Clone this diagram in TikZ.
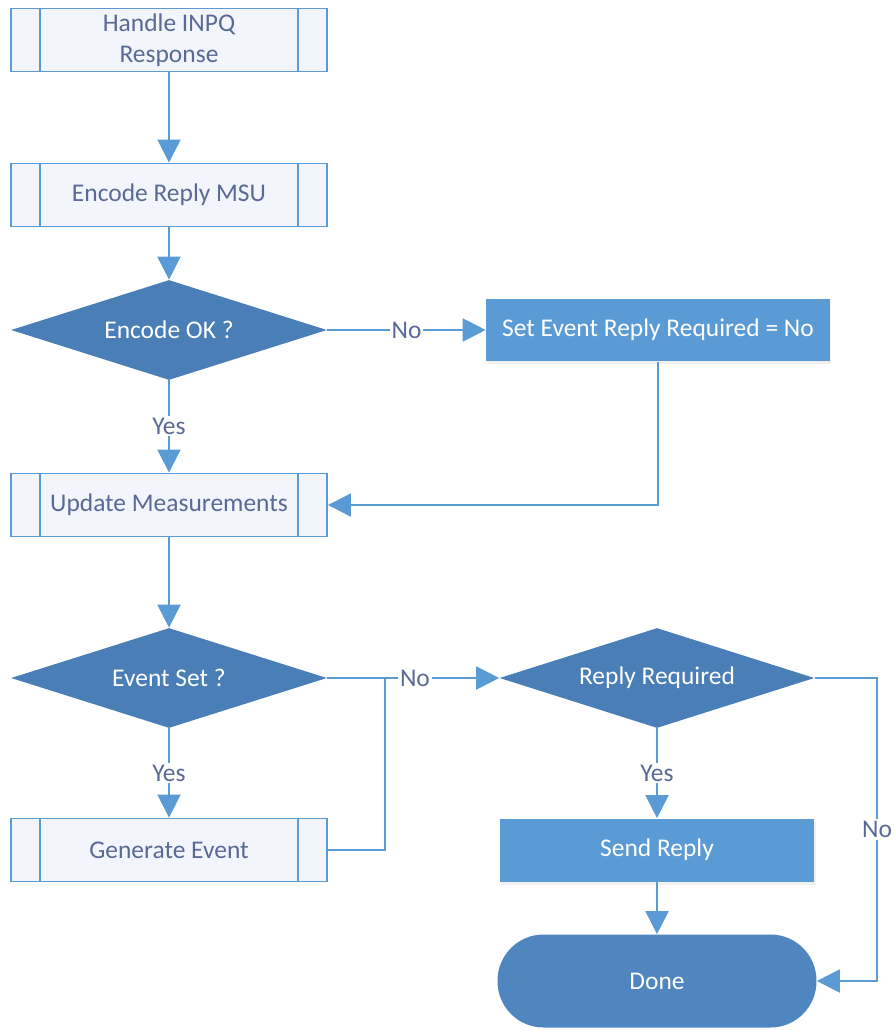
\documentclass[tikz,border=0pt]{standalone}
\usepackage{fontspec}
\setmainfont{Carlito}
\usepackage{tikz}
\usetikzlibrary{positioning,shapes.geometric,arrows.meta,calc,shadows}
\definecolor{flowline}{HTML}{5B9BD5}
\definecolor{flowdark}{HTML}{4A7EB6}
\definecolor{flowdone}{HTML}{4F86BF}
\definecolor{flowtext}{HTML}{5A6A96}
\definecolor{flowpale}{HTML}{F2F5FB}

\begin{document}
\begin{tikzpicture}[x=0.02cm, y=-0.02cm,
        font=\fontsize{14.5}{17.5}\selectfont,
        subproc/.style={draw=flowline, line width=1.1pt, fill=flowpale, text=flowtext,
            minimum width=6.32cm, minimum height=1.26cm, inner sep=0pt, align=center,
            path picture={
                \draw[flowline, line width=1.1pt] ([xshift=0.58cm]path picture bounding box.north west) -- ([xshift=0.58cm]path picture bounding box.south west);
                \draw[flowline, line width=1.1pt] ([xshift=-0.58cm]path picture bounding box.north east) -- ([xshift=-0.58cm]path picture bounding box.south east);
            }},
        decision/.style={diamond, aspect=3, fill=flowdark, text=white, minimum width=6.32cm, minimum height=2cm, inner sep=0pt},
        process/.style={fill=flowline, text=white, minimum height=1.26cm, inner sep=0pt,
            drop shadow={opacity=0.12, shadow xshift=0.03cm, shadow yshift=-0.06cm}},
        flow/.style={flowline, line width=1.1pt, -{Triangle[width=0.46cm, length=0.46cm]}},
        lbl/.style={fill=white, text=flowtext, inner sep=1pt}]
            \useasboundingbox (0,0) rectangle (894,1030);

            % left column
            \node[subproc] (handle) at (169,40) {Handle INPQ\\Response};
            \node[subproc] (encode) at (169,195) {Encode Reply MSU};
            \node[decision] (ok) at (169,330) {Encode OK ?};
            \node[subproc] (update) at (169,505) {Update Measurements};
            \node[decision] (evset) at (169,678) {Event Set ?};
            \node[subproc] (gen) at (169,850) {Generate Event};

            % right column
            \node[process, minimum width=6.88cm] (seterr) at (658,330) {Set Event Reply Required = No};
            \node[decision, minimum width=6.3cm] (reply) at (657,678) {Reply Required};
            \node[process, minimum width=6.3cm] (send) at (657,850) {Send Reply};
            \node[fill=flowdone, text=white, rounded corners=0.92cm, minimum width=6.38cm, minimum height=1.86cm] (done) at (657,981) {Done};

            \coordinate (join) at (385,678);
            \coordinate (rcorner) at (877,678);

            \draw[flow] (handle) -- (encode);
            \draw[flow] (encode) -- (ok);
            \draw[flow] (ok) -- node[lbl] {No} (seterr);
            \draw[flow] (ok) -- node[lbl] {Yes} (update);
            \draw[flow] (seterr) |- (update);
            \draw[flow] (update) -- (evset);
            \draw[flow] (evset) -- node[lbl] {Yes} (gen);
            \draw[flowline, line width=1.1pt] (gen.east) -| (join);
            \draw[flow] (evset) -- node[lbl, pos=0.51] {No} (reply);
            \draw[flow] (reply) -- node[lbl] {Yes} (send);
            \draw[flow] (send) -- (done);
            \draw[flow] (reply.east) -- (rcorner) |- node[lbl, pos=0.25] {No} (done.east);
        \end{tikzpicture}
\end{document}
